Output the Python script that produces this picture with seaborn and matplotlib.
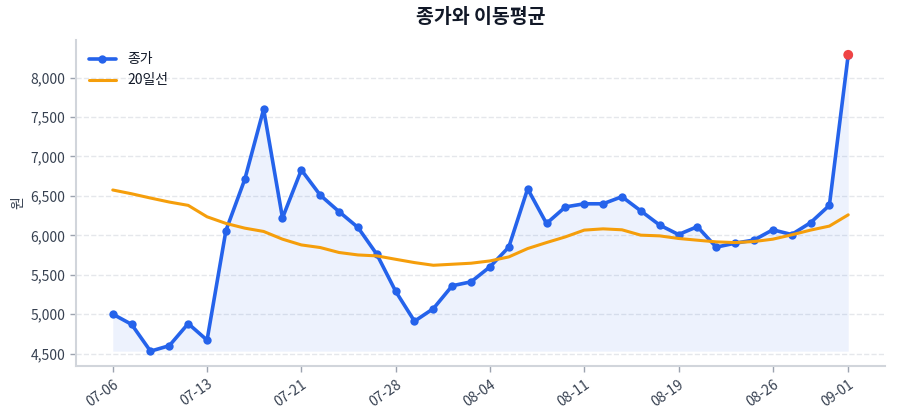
import pandas as pd
import numpy as np
import matplotlib.pyplot as plt
import seaborn as sns

# trading days (2026), labels as shown on the chart
dates = [
    "07-06", "07-07", "07-08", "07-09", "07-10",
    "07-13", "07-14", "07-15", "07-16", "07-20",
    "07-21", "07-22", "07-23", "07-24", "07-27",
    "07-28", "07-29", "07-30", "07-31", "08-03",
    "08-04", "08-05", "08-06", "08-07", "08-10",
    "08-11", "08-12", "08-13", "08-14", "08-18",
    "08-19", "08-20", "08-21", "08-24", "08-25",
    "08-26", "08-27", "08-28", "08-31", "09-01",
]

close = [
    5000, 4870, 4530, 4600, 4880, 4670, 6060, 6710, 7600, 6220,
    6830, 6510, 6300, 6100, 5760, 5290, 4910, 5070, 5360, 5410,
    5600, 5850, 6590, 6150, 6360, 6400, 6400, 6490, 6310, 6130,
    6010, 6110, 5850, 5900, 5940, 6070, 6010, 6160, 6380, 8290,
]

ma20 = [
    6575, 6527, 6473, 6422, 6380, 6235, 6151, 6091, 6049, 5951,
    5878, 5845, 5782, 5751, 5739, 5696, 5654, 5620, 5633, 5646,
    5675, 5726, 5832, 5908, 5980, 6066, 6082, 6070, 6002, 5993,
    5960, 5938, 5917, 5908, 5921, 5951, 6006, 6066, 6117, 6260,
]

tick_labels = ["07-06", "07-13", "07-21", "07-28", "08-04",
               "08-11", "08-19", "08-26", "09-01"]

df = pd.DataFrame({"date": dates, "close": close, "ma20": ma20})
df["idx"] = np.arange(len(df))

sns.set_theme(style="white")
plt.rcParams["font.family"] = ["Noto Sans CJK KR", "DejaVu Sans"]
plt.rcParams["axes.unicode_minus"] = False

blue = "#2563eb"
orange = "#f59e0b"
text_c = "#374151"

fig = plt.figure(figsize=(9, 4.2), dpi=100)
ax = fig.add_axes([76 / 900, 54 / 420, 809 / 900, 326 / 420])

# shaded area under the close
ax.fill_between(df["idx"], df["close"], min(close), color=blue, alpha=0.08, lw=0)

sns.lineplot(data=df, x="idx", y="close", ax=ax, color=blue, lw=2.6,
             marker="o", markersize=6, markeredgewidth=0, label="종가")
sns.lineplot(data=df, x="idx", y="ma20", ax=ax, color=orange, lw=2.2,
             label="20일선")

# highlight the last close
ax.scatter(df["idx"].iloc[-1], df["close"].iloc[-1], s=50, color="#ef4444",
           zorder=5, edgecolor="none")

ticks = [df.index[df["date"] == t][0] for t in tick_labels]
ax.set_xticks(ticks)
ax.set_xticklabels(tick_labels, rotation=35, ha="right", rotation_mode="anchor",
                   fontsize=10, color=text_c)
ax.set_yticks(range(4500, 8001, 500))
ax.set_yticklabels([f"{v:,}" for v in range(4500, 8001, 500)],
                   fontsize=10, color=text_c)
ax.tick_params(axis="both", length=4, width=1, color="#9ca3af", bottom=True, left=True)
ax.tick_params(axis="x", pad=4)

ax.set_xlabel("")
ax.set_ylabel("원", fontsize=10, color=text_c)
ax.set_title("종가와 이동평균", fontsize=14, fontweight="bold", color="#111827", pad=12)

ax.grid(axis="y", ls="--", color="#e5e7eb", lw=1)
ax.grid(axis="x", visible=False)
ax.set_axisbelow(True)
sns.despine(ax=ax)
for s in ["left", "bottom"]:
    ax.spines[s].set_color("#d1d5db")
    ax.spines[s].set_linewidth(1.5)

ax.margins(x=0.05, y=0.05)
leg = ax.legend(loc="upper left", frameon=False, fontsize=10)
for t in leg.get_texts():
    t.set_color("#111827")

fig.savefig("out.png", dpi=100)
